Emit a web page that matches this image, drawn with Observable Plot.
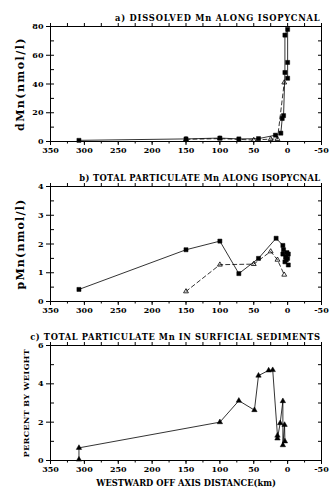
<!DOCTYPE html>
<html><head><meta charset="utf-8">
<script src="https://cdn.jsdelivr.net/npm/d3@7"></script>
<script src="https://cdn.jsdelivr.net/npm/@observablehq/plot@0.6"></script>
<style>
body{margin:0;background:#fff}
#c{width:336px}
#c svg{display:block}
</style>
</head><body><div id="c"></div>
<script>
// Distance west of the ridge axis (km)
const xMajorTicks = [350, 300, 250, 200, 150, 100, 50, 0, -50];
const xMinorTicks = [350, 325, 300, 275, 250, 225, 200, 175, 150, 125, 100, 75, 50, 25, 0, -25, -50];

// a) Dissolved Mn along isopycnal (nmol/l)
const aSquareX = [308, 150, 100, 72, 43, 18, 10, 8, 6, 4, 4, 0, 0, 0];
const aSquareY = [0.8, 1.8, 2.4, 1.8, 2.0, 4.4, 5.8, 16, 18, 48, 74, 78, 55, 44];
const aTriX = [150, 100, 50, 25, 15, 5];
const aTriY = [1.5, 2.0, 1.0, 1.7, 1.7, 41];
const aYMajor = [0, 20, 40, 60, 80];
const aYMinor = [0, 10, 20, 30, 40, 50, 60, 70, 80];

// b) Total particulate Mn along isopycnal (nmol/l)
const bSquareX = [308, 150, 100, 72, 43, 17, 7, 6, 7, 3, 1, -1, 2, 0, 4, -1];
const bSquareY = [0.42, 1.80, 2.10, 0.97, 1.50, 2.20, 1.95, 1.80, 1.65, 1.55, 1.70, 1.65, 1.45, 1.50, 1.38, 1.27];
const bTriX = [150, 100, 50, 25, 15, 5];
const bTriY = [0.35, 1.28, 1.30, 1.74, 1.45, 0.93];
const bYMajor = [0, 1, 2, 3, 4];
const bYMinor = [0, 0.5, 1, 1.5, 2, 2.5, 3, 3.5, 4];

// c) Total particulate Mn in surficial sediments (% by weight)
const cTriX = [308, 308, 100, 72, 49, 43, 28, 22, 15, 15, 11, 7, 7, 4.5, 4];
const cTriY = [0.05, 0.66, 2.0, 3.12, 2.63, 4.43, 4.70, 4.72, 1.30, 1.15, 1.95, 3.1, 0.8, 1.86, 1.0];
const cYMajor = [0, 2, 4, 6];
const cYMinor = [0, 1, 2, 3, 4, 5, 6];

const titles = [
  "a) DISSOLVED Mn ALONG ISOPYCNAL",
  "b) TOTAL PARTICULATE Mn ALONG ISOPYCNAL",
  "c) TOTAL PARTICULATE Mn IN SURFICIAL SEDIMENTS"
];
const yLabels = ["dMn(nmol/l)", "pMn(nmol/l)", "PERCENT BY WEIGHT"];
const xLabel = "WESTWARD OFF AXIS DISTANCE(km)";

const FONT = "DejaVu Serif";
const pts = (xs, ys) => xs.map((x, i) => ({x, y: ys[i]}));
const blank = () => "";

function panel({idx, ylabelSize, ylabelOffset, titleSpacing, ylabelSpacing, yDomain, yMajor, yMinor, solid, solidSymbol, dashed, height, marginTop, marginBottom, showXLabel}) {
  const marks = [
    Plot.frame({stroke: "#000", strokeWidth: 1}),
    Plot.axisX(xMajorTicks, {anchor: "bottom", tickSize: 4, tickPadding: 2, label: null, fontSize: 8, tickFormat: d => d < 0 ? "-" + (-d) : String(d)}),
    Plot.axisX(xMinorTicks, {anchor: "bottom", tickSize: 2.5, tickFormat: blank, label: null}),
    Plot.axisX(xMinorTicks, {anchor: "top", tickSize: 4, tickFormat: blank, label: null}),
    Plot.axisY(yMajor, {anchor: "left", tickSize: 4, tickPadding: 3, label: null, fontSize: 8}),
    Plot.axisY(yMinor, {anchor: "left", tickSize: -4, tickFormat: blank, label: null}),
    Plot.axisY(yMinor, {anchor: "right", tickSize: -4, tickFormat: blank, label: null}),
    Plot.text([yLabels[idx]], {frameAnchor: "left", textAnchor: "middle", lineAnchor: "middle", rotate: -90, dx: -ylabelOffset, fontSize: ylabelSize, fontWeight: "bold"}),
    Plot.text([titles[idx]], {frameAnchor: "top-right", textAnchor: "end", lineAnchor: "bottom", dy: -6, dx: -1, fontWeight: "bold", fontSize: 8.3})
  ];
  if (showXLabel) {
    marks.push(Plot.text([xLabel], {frameAnchor: "bottom", lineAnchor: "top", dy: 20, fontWeight: "bold", fontSize: 8.3}));
  }
  if (dashed) {
    marks.push(Plot.line(dashed, {x: "x", y: "y", stroke: "#000", strokeWidth: 0.8, strokeDasharray: "4,3"}));
    marks.push(Plot.dot(dashed, {x: "x", y: "y", symbol: "triangle", r: 1.8, stroke: "#000", fill: "none", strokeWidth: 0.8}));
  }
  marks.push(Plot.line(solid, {x: "x", y: "y", stroke: "#000", strokeWidth: 0.8}));
  marks.push(Plot.dot(solid, {x: "x", y: "y", symbol: solidSymbol, r: solidSymbol === "square" ? 2.3 : 2, fill: "#000", stroke: "#000", strokeWidth: 0.5}));
  const svg = Plot.plot({
    width: 336, height,
    marginLeft: 50, marginRight: 15, marginTop, marginBottom,
    x: {domain: [350, -50]},
    y: {domain: yDomain},
    style: {fontFamily: FONT, fontSize: "8px", fontWeight: "bold", color: "#000", background: "#fff"},
    marks
  });
  // letter spacing to mimic the wide plotter lettering
  d3.select(svg).selectAll("text").each(function () {
    const t = this.textContent;
    if (t === titles[idx]) this.style.letterSpacing = titleSpacing + "px";
    else if (t === yLabels[idx]) this.style.letterSpacing = ylabelSpacing + "px";
  });
  return svg;
}

const c = document.getElementById("c");
c.appendChild(panel({idx: 0, ylabelSize: 11, ylabelOffset: 30, titleSpacing: 0.8, ylabelSpacing: 1.5,
  yDomain: [0, 80], yMajor: aYMajor, yMinor: aYMinor,
  solid: pts(aSquareX, aSquareY), solidSymbol: "square", dashed: pts(aTriX, aTriY),
  height: 160, marginTop: 26, marginBottom: 19}));
c.appendChild(panel({idx: 1, ylabelSize: 11, ylabelOffset: 30, titleSpacing: 0.35, ylabelSpacing: 1.2,
  yDomain: [0, 4], yMajor: bYMajor, yMinor: bYMinor,
  solid: pts(bSquareX, bSquareY), solidSymbol: "square", dashed: pts(bTriX, bTriY),
  height: 160, marginTop: 26, marginBottom: 19}));
c.appendChild(panel({idx: 2, ylabelSize: 8, ylabelOffset: 24, titleSpacing: 0.6, ylabelSpacing: 0.4,
  yDomain: [0, 6], yMajor: cYMajor, yMinor: cYMinor,
  solid: pts(cTriX, cTriY), solidSymbol: "triangle", dashed: null,
  height: 180, marginTop: 25, marginBottom: 40, showXLabel: true}));
</script>
</body></html>
